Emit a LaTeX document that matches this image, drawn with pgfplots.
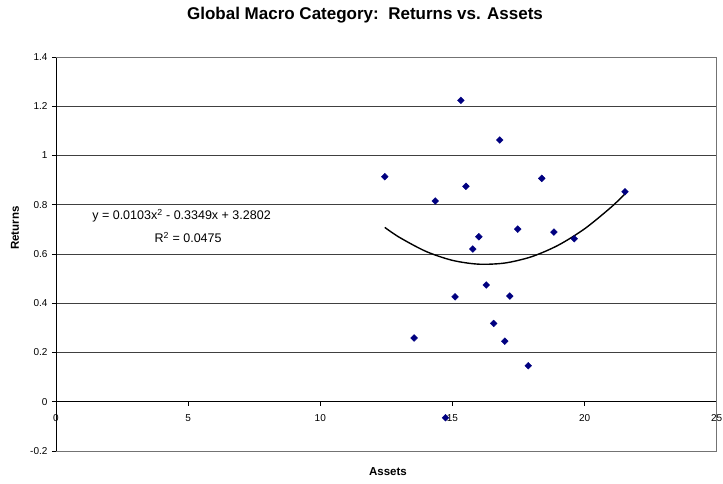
\documentclass[border=0pt]{standalone}
\usepackage{pgfplots}
\pgfplotsset{compat=1.18}
\usepackage{fontspec}
\setmainfont{Liberation Sans}
\definecolor{navy}{RGB}{0,0,128}
\pgfplotstableread{
x y
15.32 1.224
16.79 1.063
12.44 0.914
14.35 0.815
15.51 0.875
18.38 0.907
21.53 0.853
17.47 0.701
18.84 0.689
19.61 0.662
16.00 0.670
15.77 0.620
16.28 0.474
15.10 0.426
17.17 0.429
16.56 0.318
13.55 0.259
16.98 0.246
17.87 0.146
14.74 -0.065
}\scatterdata
\begin{document}
\begin{tikzpicture}[x=1bp,y=1bp]
\path[use as bounding box] (-56,-33) rectangle (667,451);
\begin{axis}[
  at={(0,0)}, anchor=south west,
  width=660.7bp, height=394bp, scale only axis,
  xmin=0, xmax=25, ymin=-0.2, ymax=1.4,
  axis x line=middle, axis y line=left,
  axis line style={-, black, line width=0.7bp},
  hide obscured x ticks=false, hide obscured y ticks=false,
  xtick={0,5,10,15,20,25},
  ytick={-0.2,0,0.2,0.4,0.6,0.8,1,1.2,1.4},
  yticklabels={-0.2,0,0.2,0.4,0.6,0.8,1,1.2,1.4},
  xticklabels={0,5,10,15,20,25},
  tick align=outside, major tick length=4bp,
  tick style={black, line width=0.6bp},
  ymajorgrids, grid style={black!75, line width=0.6bp},
  ticklabel style={font=\fontsize{10bp}{12bp}\selectfont},
  yticklabel style={xshift=-1bp},
  xticklabel style={anchor=center, yshift=-12.5bp},
  clip=false,
]
\draw[black!55, line width=0.7bp] (rel axis cs:0,0) -- (rel axis cs:1,0) -- (rel axis cs:1,1) -- (rel axis cs:0,1);
\addplot[only marks, mark=square*, mark size=2.4bp, navy, mark options={rotate=45, fill=navy, draw=navy}] table {\scatterdata};
\addplot[black, line width=1.4bp, smooth] coordinates {
(12.44,0.708) (13,0.6672) (14,0.6104) (15,0.5742) (16,0.5586) (17,0.5636)
(18,0.5892) (19,0.6354) (20,0.7022) (21,0.7896) (21.53,0.8443)};
\node[font=\fontsize{12.5bp}{14bp}\selectfont] at (axis cs:4.75,0.755) {y = 0.0103x\textsuperscript{2} - 0.3349x + 3.2802};
\node[font=\fontsize{12.5bp}{14bp}\selectfont] at (axis cs:5.0,0.666) {R\textsuperscript{2} = 0.0475};
\end{axis}
\node[font=\bfseries\fontsize{17bp}{20bp}\selectfont] at (309,436) {Global Macro Category:\ \ Returns vs. Assets};
\node[font=\bfseries\fontsize{11.5bp}{13bp}\selectfont, rotate=90] at (-41,223) {Returns};
\node[font=\bfseries\fontsize{11.5bp}{13bp}\selectfont] at (332,-21) {Assets};
\end{tikzpicture}
\end{document}
